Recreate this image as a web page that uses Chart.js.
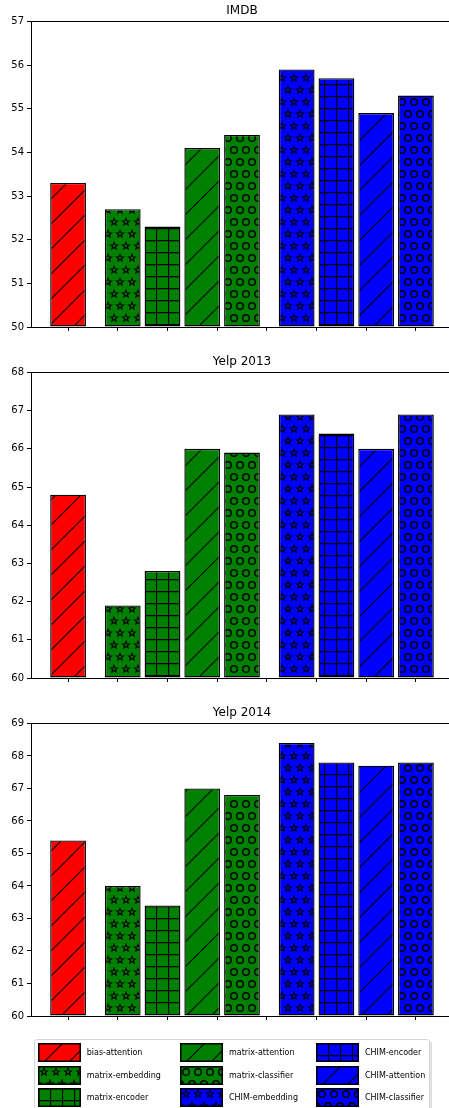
<!DOCTYPE html>
<html>
<head>
<meta charset="utf-8">
<script src="https://cdn.jsdelivr.net/npm/chart.js@4.4.1/dist/chart.umd.min.js"></script>
<style>
  html, body { margin: 0; padding: 0; background: #fff; overflow: hidden; }
  body { position: relative; width: 449px; height: 1108px; }
  canvas.panel { position: absolute; left: 0; }
  #legendBox {
    position: absolute; left: 34px; top: 1039px; width: 394px; height: 90px;
    border: 1px solid #d6d6d6; border-radius: 3px; background: #fff;
    box-shadow: 2px 2px 0 rgba(0, 0, 0, 0.12);
  }
  .legItem { position: absolute; display: flex; align-items: center; white-space: nowrap; }
  .legItem canvas { display: block; }
  .legItem span { margin-left: 6px; font: 8px "DejaVu Sans"; color: #000; }
</style>
</head>
<body>
<canvas id="imdbChart" class="panel" width="454" height="340" style="top:0px"></canvas>
<canvas id="yelp13Chart" class="panel" width="454" height="340" style="top:351px"></canvas>
<canvas id="yelp14Chart" class="panel" width="454" height="327" style="top:702px"></canvas>
<div id="legendBox"></div>

<script>
// data
const METHODS = [
  "bias-attention", "matrix-embedding", "matrix-encoder", "matrix-attention", "matrix-classifier",
  "CHIM-embedding", "CHIM-encoder", "CHIM-attention", "CHIM-classifier"
];
const METHOD_GROUP = [0, 1, 1, 1, 1, 2, 2, 2, 2];

const IMDB = [53.3, 52.7, 52.3, 54.1, 54.4, 55.9, 55.7, 54.9, 55.3];
const YELP_2013 = [64.8, 61.9, 62.8, 66.0, 65.9, 66.9, 66.4, 66.0, 66.9];
const YELP_2014 = [65.4, 64.0, 63.4, 67.0, 66.8, 68.4, 67.8, 67.7, 67.8];

const IMDB_RANGE = [50, 57];
const YELP_2013_RANGE = [60, 68];
const YELP_2014_RANGE = [60, 69];

// styling / layout
const GROUP_COLORS = ["#ff0000", "#008000", "#0000ff"];
const METHOD_HATCH = ["slash", "stars", "grid", "slash", "circles", "stars", "grid", "slash", "circles"];
const GROUP_START = [0, 1.1, 4.6];
const BAR_STEP = 0.8;
const X_LIMITS = [-0.746, 7.746];

Chart.defaults.font.family = "DejaVu Sans";

/* ================================
   HATCH PATTERNS
================================ */
function drawStar(g, cx, cy) {
  const outer = 3.6, inner = 1.5;
  g.beginPath();
  for (let i = 0; i < 10; i++) {
    const r = i % 2 === 0 ? outer : inner;
    const a = -Math.PI / 2 + i * Math.PI / 5;
    const x = cx + r * Math.cos(a), y = cy + r * Math.sin(a);
    if (i === 0) g.moveTo(x, y); else g.lineTo(x, y);
  }
  g.closePath();
  g.stroke();
}

function hatchTile(color, kind) {
  const c = document.createElement("canvas");
  let w = 12, h = 12;
  if (kind === "slash") { w = 25; h = 25; }
  if (kind === "stars" || kind === "circles") { w = 12; h = 24; }
  c.width = w; c.height = h;
  const g = c.getContext("2d");
  g.fillStyle = color;
  g.fillRect(0, 0, w, h);
  g.strokeStyle = "#000";
  g.lineWidth = 1.1;

  if (kind === "slash") {
    g.beginPath();
    for (const o of [-w, 0, w]) { g.moveTo(o, h); g.lineTo(o + w, 0); }
    g.stroke();
  } else if (kind === "grid") {
    g.lineWidth = 1.3;
    g.beginPath();
    g.moveTo(0.5, 0); g.lineTo(0.5, h);
    g.moveTo(0, 0.5); g.lineTo(w, 0.5);
    g.stroke();
  } else if (kind === "stars") {
    for (const [x, y] of [[6, 6], [0, 18], [12, 18]]) drawStar(g, x, y);
  } else if (kind === "circles") {
    g.lineWidth = 1.4;
    for (const [x, y] of [[6, 6], [0, 18], [12, 18]]) {
      g.beginPath(); g.arc(x, y, 3.3, 0, Math.PI * 2); g.stroke();
    }
  }
  return c;
}

const tiles = METHODS.map((m, i) => hatchTile(GROUP_COLORS[METHOD_GROUP[i]], METHOD_HATCH[i]));

function patternsFor(ctx) {
  return tiles.map(t => ctx.createPattern(t, "repeat"));
}

// bar x positions built from the grouping
function barPositions() {
  const seen = [0, 0, 0];
  return METHOD_GROUP.map(g => GROUP_START[g] + BAR_STEP * (seen[g]++));
}

/* ================================
   PLUGINS
================================ */
const framePlugin = {
  id: "frame",
  afterLayout(chart) {
    // centre the title over the axes, not over the whole canvas
    if (chart.titleBlock) {
      chart.titleBlock.left = chart.chartArea.left;
      chart.titleBlock.right = chart.chartArea.right;
    }
  },
  afterDraw(chart) {
    const { ctx, chartArea: a } = chart;
    ctx.save();
    ctx.strokeStyle = "#000";
    ctx.lineWidth = 1;
    ctx.strokeRect(Math.round(a.left) + 0.5, Math.round(a.top) + 0.5,
                   Math.round(a.right - a.left), Math.round(a.bottom - a.top));
    ctx.restore();
  }
};

/* ================================
   PANEL
================================ */
function renderPanel(canvasId, title, values, range) {
  const canvas = document.getElementById(canvasId);
  const ctx = canvas.getContext("2d");
  const xs = barPositions();

  return new Chart(canvas, {
    type: "bar",
    data: {
      datasets: [{
        label: title,
        data: values.map((v, i) => ({ x: xs[i], y: v })),
        backgroundColor: patternsFor(ctx),
        borderColor: "#000",
        borderWidth: 1.4,
        borderSkipped: false,
        base: range[0],
        barPercentage: 0.9,
        categoryPercentage: 1.0
      }]
    },
    options: {
      responsive: false,
      animation: false,
      layout: { padding: { left: 0, right: 1, top: 0, bottom: 0 } },
      scales: {
        x: {
          type: "linear",
          min: X_LIMITS[0],
          max: X_LIMITS[1],
          offset: false,
          grid: { offset: false, drawOnChartArea: false, drawTicks: true, tickLength: 4, color: "#000" },
          border: { display: true, color: "#000", width: 1 },
          ticks: { stepSize: 1, includeBounds: false, autoSkip: false, callback: () => "" },
          afterFit: s => { s.height = 13; }
        },
        y: {
          min: range[0],
          max: range[1],
          grid: { drawOnChartArea: false, drawTicks: true, tickLength: 4, color: "#000" },
          border: { display: true, color: "#000", width: 1 },
          ticks: { stepSize: 1, padding: 3, color: "#000", font: { size: 10 } },
          afterFit: s => { s.width = 31; }
        }
      },
      plugins: {
        legend: { display: false },
        tooltip: { enabled: false },
        title: {
          display: true,
          text: title,
          color: "#000",
          font: { size: 12, weight: "normal" },
          padding: { top: 4, bottom: 3 }
        }
      }
    },
    plugins: [framePlugin]
  });
}

renderPanel("imdbChart", "IMDB", IMDB, IMDB_RANGE);
renderPanel("yelp13Chart", "Yelp 2013", YELP_2013, YELP_2013_RANGE);
renderPanel("yelp14Chart", "Yelp 2014", YELP_2014, YELP_2014_RANGE);

/* ================================
   LEGEND (3 rows, filled column by column)
================================ */
function renderLegend() {
  const box = document.getElementById("legendBox");
  const colX = [2.7, 145, 281];
  const rowY = [3.3, 25.5, 47.7];

  METHODS.forEach((name, i) => {
    const item = document.createElement("div");
    item.className = "legItem";
    item.style.left = colX[Math.floor(i / 3)] + "px";
    item.style.top = rowY[i % 3] + "px";

    const sw = document.createElement("canvas");
    sw.width = 43; sw.height = 19;
    const g = sw.getContext("2d");
    g.fillStyle = g.createPattern(tiles[i], "repeat");
    g.fillRect(0, 0, 43, 19);
    g.strokeStyle = "#000";
    g.lineWidth = 1.5;
    g.strokeRect(0.75, 0.75, 41.5, 17.5);

    const label = document.createElement("span");
    label.textContent = name;

    item.appendChild(sw);
    item.appendChild(label);
    box.appendChild(item);
  });
}

renderLegend();
</script>
</body>
</html>
